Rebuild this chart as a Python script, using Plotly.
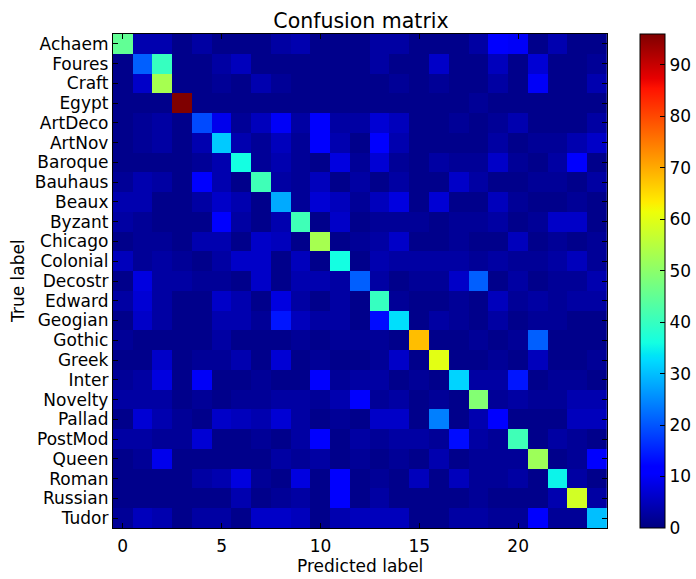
import plotly.graph_objects as go

title = "Confusion matrix"
x_label = "Predicted label"
y_label = "True label"
categories = ["Achaem", "Foures", "Craft", "Egypt", "ArtDeco", "ArtNov", "Baroque", "Bauhaus", "Beaux",
              "Byzant", "Chicago", "Colonial", "Decostr", "Edward", "Geogian", "Gothic", "Greek", "Inter",
              "Novelty", "Pallad", "PostMod", "Queen", "Roman", "Russian", "Tudor"]
x_ticks = [0, 5, 10, 15, 20]
cbar_ticks = [0, 10, 20, 30, 40, 50, 60, 70, 80, 90]
z_max = 96

matrix = [
    [45, 4, 4, 1, 3, 1, 1, 1, 3, 4, 1, 1, 1, 3, 3, 1, 1, 1, 3, 11, 10, 1, 4, 1, 1],
    [1, 21, 40, 1, 1, 3, 5, 1, 1, 1, 1, 1, 1, 3, 1, 1, 6, 1, 1, 5, 1, 7, 1, 1, 2],
    [1, 6, 53, 1, 1, 2, 1, 4, 2, 1, 1, 1, 1, 1, 2, 1, 2, 1, 1, 3, 1, 10, 1, 1, 4],
    [1, 1, 1, 96, 1, 1, 1, 1, 1, 1, 1, 1, 1, 1, 1, 1, 1, 1, 2, 1, 1, 1, 1, 1, 1],
    [1, 2, 3, 1, 19, 9, 2, 5, 10, 3, 11, 3, 3, 7, 5, 1, 1, 2, 1, 2, 4, 1, 1, 1, 3],
    [1, 2, 3, 1, 4, 31, 4, 2, 5, 2, 11, 4, 1, 11, 4, 1, 1, 1, 1, 3, 1, 2, 2, 4, 6],
    [1, 1, 1, 1, 2, 4, 36, 2, 4, 2, 1, 8, 2, 7, 2, 1, 3, 2, 2, 6, 2, 1, 3, 11, 1],
    [2, 4, 3, 1, 11, 4, 1, 41, 3, 2, 5, 1, 3, 1, 3, 1, 1, 6, 3, 1, 1, 2, 2, 1, 3],
    [4, 4, 1, 1, 3, 6, 4, 1, 28, 2, 7, 5, 2, 5, 8, 1, 7, 1, 1, 5, 2, 1, 1, 2, 1],
    [3, 2, 1, 1, 1, 11, 3, 1, 4, 41, 1, 6, 1, 2, 2, 2, 1, 2, 2, 3, 1, 2, 6, 6, 1],
    [1, 2, 2, 1, 4, 4, 1, 6, 5, 1, 53, 1, 2, 3, 6, 1, 1, 2, 1, 1, 5, 1, 2, 1, 2],
    [5, 2, 3, 2, 1, 3, 6, 6, 1, 5, 1, 36, 1, 4, 3, 3, 3, 3, 2, 3, 2, 2, 3, 5, 2],
    [1, 8, 3, 3, 2, 2, 1, 6, 1, 4, 4, 3, 21, 3, 1, 2, 2, 6, 21, 1, 3, 1, 2, 2, 4],
    [3, 7, 3, 1, 1, 6, 4, 1, 8, 3, 1, 3, 1, 40, 2, 1, 1, 2, 1, 5, 2, 3, 2, 3, 3],
    [1, 6, 3, 1, 1, 4, 4, 2, 14, 5, 3, 3, 1, 13, 33, 1, 3, 2, 1, 3, 1, 2, 2, 1, 1],
    [2, 1, 1, 1, 1, 3, 1, 1, 1, 2, 1, 2, 2, 2, 1, 68, 1, 1, 2, 1, 2, 21, 1, 1, 1],
    [1, 1, 6, 1, 2, 2, 4, 1, 7, 1, 2, 1, 1, 2, 6, 1, 60, 1, 1, 2, 1, 5, 1, 1, 2],
    [2, 3, 8, 1, 10, 1, 1, 2, 1, 1, 11, 2, 3, 3, 1, 2, 1, 32, 3, 3, 14, 1, 2, 2, 1],
    [3, 3, 3, 1, 2, 1, 2, 2, 3, 3, 2, 4, 11, 2, 3, 1, 2, 1, 49, 2, 3, 2, 2, 4, 4],
    [1, 7, 4, 2, 1, 6, 5, 4, 7, 3, 1, 2, 1, 6, 6, 1, 24, 1, 4, 11, 1, 1, 1, 5, 5],
    [3, 3, 2, 2, 7, 1, 1, 2, 1, 3, 11, 1, 3, 2, 3, 3, 2, 13, 3, 2, 41, 1, 3, 2, 1],
    [1, 2, 9, 1, 1, 1, 1, 1, 3, 2, 3, 1, 2, 1, 2, 1, 4, 1, 2, 2, 2, 52, 1, 2, 11],
    [1, 1, 1, 1, 3, 4, 8, 2, 1, 8, 1, 11, 1, 2, 1, 5, 1, 5, 2, 2, 3, 1, 35, 3, 1],
    [1, 1, 1, 1, 1, 1, 4, 1, 2, 3, 1, 11, 1, 3, 1, 1, 1, 1, 2, 1, 1, 1, 4, 58, 3],
    [2, 5, 4, 1, 3, 3, 1, 6, 6, 5, 1, 4, 5, 5, 5, 1, 1, 3, 3, 2, 2, 12, 2, 2, 30],
]

jet = [
    [0.0, "rgb(0,0,127)"], [0.11, "rgb(0,0,255)"], [0.125, "rgb(0,0,255)"], [0.34, "rgb(0,219,255)"],
    [0.35, "rgb(0,229,246)"], [0.375, "rgb(20,255,226)"], [0.64, "rgb(238,255,8)"], [0.66, "rgb(255,236,0)"],
    [0.89, "rgb(255,18,0)"], [0.91, "rgb(231,0,0)"], [1.0, "rgb(127,0,0)"],
]

W, H = 696, 579
L, R, T, B = 113, 608, 34, 528
font = "DejaVu Sans"
tick_size = 17
label_size = 17

fig = go.Figure(go.Heatmap(
    z=matrix,
    x=list(range(25)),
    y=list(range(25)),
    colorscale=jet,
    zmin=0,
    zmax=z_max,
    zsmooth=False,
    colorbar=dict(
        x=640 / W, xanchor="left", xpad=0, ypad=0,
        y=1 - (T + B) / 2 / H, yanchor="middle",
        len=(B - T) / H, lenmode="fraction",
        thickness=25, thicknessmode="pixels",
        tickvals=cbar_ticks, ticks="inside", ticklen=5, tickwidth=1, tickcolor="black",
        outlinecolor="black", outlinewidth=1,
        tickfont=dict(family=font, size=tick_size, color="black"),
    ),
))

fig.update_layout(
    width=W, height=H, autosize=False,
    margin=dict(l=0, r=0, t=0, b=0),
    paper_bgcolor="white", plot_bgcolor="white",
    font=dict(family=font, color="black"),
    title=dict(text=title, x=361 / W, xanchor="center", y=1 - 21 / H, yanchor="middle",
               font=dict(family=font, size=20.5, color="black")),
    xaxis=dict(
        domain=[L / W, R / W], range=[-0.5, 24.5], tickmode="array", tickvals=x_ticks,
        ticks="inside", ticklen=5, tickcolor="black", showline=True, linecolor="black", linewidth=1,
        mirror="ticks", showgrid=False, zeroline=False, automargin=False, ticklabelstandoff=3,
        tickfont=dict(family=font, size=tick_size, color="black"),
    ),
    yaxis=dict(
        domain=[1 - B / H, 1 - T / H], range=[24.5, -0.5], tickmode="array",
        tickvals=list(range(25)), ticktext=categories,
        ticks="inside", ticklen=5, tickcolor="black", showline=True, linecolor="black", linewidth=1,
        mirror="ticks", showgrid=False, zeroline=False, automargin=False,
        tickfont=dict(family=font, size=tick_size, color="black"),
    ),
    annotations=[
        dict(text=x_label, xref="paper", yref="paper", x=361 / W, y=1 - 566 / H, xanchor="center",
             yanchor="middle", showarrow=False, font=dict(family=font, size=label_size, color="black")),
        dict(text=y_label, xref="paper", yref="paper", x=18 / W, y=1 - 281 / H, xanchor="center",
             yanchor="middle", textangle=-90, showarrow=False,
             font=dict(family=font, size=label_size, color="black")),
    ],
)

fig.write_html("out.html", config={"displayModeBar": False}, post_script="document.body.style.margin='0';")
